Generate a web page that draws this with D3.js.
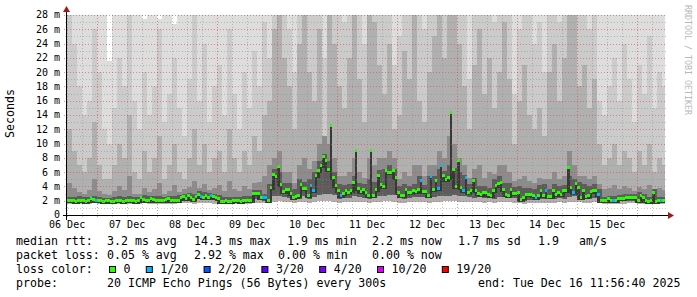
<!DOCTYPE html>
<html>
<head>
<meta charset="utf-8">
<script src="https://cdn.jsdelivr.net/npm/d3@7"></script>
<style>
  body { margin: 0; background: #fff; }
  text { font-family: "DejaVu Sans Mono", monospace; }
</style>
</head>
<body>
<svg id="chart" width="697" height="297"></svg>
<script>
// median rtt in ms, one value per hour starting 06 Dec 12:00
const medianRtt = [
  2.0,2.0,2.0,1.9,2.0,2.0,2.0,1.9,2.0,2.3,2.2,2.0,2.1,
  2.0,1.9,2.0,2.0,1.9,1.9,2.0,2.1,2.0,1.9,2.0,2.0,2.1,2.0,1.9,2.0,
  2.4,2.2,2.0,2.1,2.3,2.2,2.0,2.0,2.1,2.0,2.2,2.3,2.0,2.0,2.0,2.1,2.4,
  2.6,2.3,2.7,2.5,2.2,2.6,2.9,2.6,2.4,2.8,2.5,2.7,2.6,2.4,2.3,
  1.9,1.9,2.0,1.9,1.9,2.0,2.0,2.0,1.9,2.0,2.0,2.0,2.1,
  3.0,3.0,3.0,2.5,2.5,2.5,2.1,
  3.9,5.7,5.4,6.8,4.3,3.3,3.6,3.6,3.0,2.5,2.6,2.8,4.3,3.7,3.7,2.8,4.1,3.5,5.6,6.2,
  7.0,8.2,7.6,6.4,12.6,5.2,4.1,3.4,2.7,3.0,3.4,3.1,3.5,4.5,9.0,3.7,3.3,3.6,3.1,2.8,
  9.0,2.8,3.6,5.5,4.3,4.0,6.2,6.0,6.0,6.2,5.2,3.2,2.7,2.7,3.6,3.2,3.2,3.5,3.3,3.6,
  4.8,3.3,3.3,2.8,5.4,3.6,4.8,3.7,7.0,5.5,5.0,5.2,14.3,6.4,4.0,7.6,3.9,3.5,5.2,3.1,
  3.4,4.8,3.4,3.0,2.9,3.2,3.2,2.9,2.8,3.5,4.1,4.4,4.6,3.6,2.9,2.8,3.6,3.0,3.0,3.2,
  2.2,2.4,2.9,2.9,2.9,2.7,2.5,2.7,3.4,2.7,3.5,2.6,2.6,3.5,2.9,3.1,2.9,3.4,3.4,6.6,
  3.9,3.1,4.4,3.9,2.5,3.5,2.6,2.7,3.3,3.5,3.4,2.9,2.0,2.0,2.0,2.3,2.0,2.1,2.1,2.3,
  2.3,2.3,2.4,2.5,2.5,2.5,2.4,2.1,2.8,2.5,2.0,1.9,2.1,3.2,1.9,2.0,2.0,2.0
];

// hours (index into medianRtt) where 1 of 20 pings was lost
const lossOneHours = [11,53,57,78,79,97,98,109,141,145,148,149,158,159,187,191,202,212,218,237];

// smoke, one value per 2-hour column starting 06 Dec 12:00 (ms)
const smokeTop = [
  30,30,30,30,30,30,30,30,21.5,30,30,30,30,30,30,27.4,30,30,27.5,30,
  30,26.8,30,30,30,30,30,30,30,30,30,30,30,30,30,30,30,30,30,30,
  30,30,30,30,30,30,30,30,30,30,30,30,30,30,30,30,30,30,30,30,
  30,30,30,30,30,30,30,30,30,30,30,30,30,30,30,30,30,30,30,30,
  30,30,30,30,30,30,30,30,30,30,30,30,30,30,30,30,30,30,30,30,
  30,30,30,30,30,30,30,30,30,30,30,30,30,30,30,30,30,30,30,30
];
const smokeP18 = [
  28,24,18,14,16,26,20,12,10,15,22,18,28,16,12,20,14,18,26,13,
  17,22,15,11,19,28,16,24,13,18,21,14,26,17,12,20,15,23,18,27,22,
  30,30,30,26,20,30,30,30,28,30,22,30,30,30,27,30,30,30,24,30,
  30,30,29,30,21,25,30,30,30,28,26,30,30,30,30,30,30,30,30,19,
  30,30,28,30,27,30,30,29,17,26,30,28,24,27,20,30,30,27,30,30,
  30,29,30,26,28,16,
  14,18,22,16,24,19,13,21,17,25,15,20,18
];
const smokeP16 = [
  12,9,7,6,8,13,7,5,5,7,10,8,14,6,5,9,6,8,11,5,
  7,10,6,5,8,12,7,10,6,8,9,6,12,8,6,9,7,11,9,14,16,
  26,30,22,18,12,24,30,20,16,26,11,30,24,18,15,22,30,19,13,30,
  27,21,17,24,12,14,23,19,28,16,13,20,25,30,22,30,30,24,18,12,
  21,26,17,22,15,20,27,19,10,16,21,14,12,15,11,20,24,16,22,30,
  28,18,21,15,19,10,
  7,8,10,7,9,8,6,9,7,10,6,8,7
];
const smokeP14 = [
  4.5,3.8,3.2,3.0,3.5,5.0,3.4,3.0,2.8,3.3,4.0,3.5,5.5,3.0,2.9,3.8,3.2,3.6,4.5,3.0,
  3.4,4.2,3.2,3.6,3.9,4.8,3.8,4.4,3.5,3.8,4.2,3.4,4.8,3.6,3.4,4.0,3.6,4.5,4.6,5.5,7.0,
  8,9,6,6,4.5,7,8,6.5,7.5,10,11,10,8,5.5,5.5,6,8,6,5.2,8,
  7,8,8,9,8,5,6,5.5,7,7,5.5,7,7,9,8,11,10,8,7,5.2,
  6.5,7,5.2,6,5.8,7,7,6,4.8,5,5.5,4.8,4.5,5.2,5.0,5,6,5,5.5,9,
  7,5.5,5.5,5,5.5,4.4,
  3.6,3.8,4.2,3.6,4.0,3.8,3.4,3.9,3.6,4.2,3.4,3.8,3.5
];
const smokeP12 = [
  2.5,2.5,2.6,2.5,2.5,2.7,2.5,2.4,2.4,2.5,2.6,2.5,2.7,2.5,2.5,2.8,2.6,2.6,2.7,2.5,
  2.6,2.7,2.8,3.0,3.1,3.0,3.3,3.2,3.1,3.0,2.8,2.5,2.5,2.5,2.5,2.6,2.6,3.5,3.5,3.0,4.3,
  6.5,6.0,4.5,4.5,3.6,5.0,4.6,5.0,6.0,7.5,8.5,7.5,6.0,4.3,4.2,4.4,5.5,4.5,4.4,5.0,
  4.6,6.3,6.5,7.0,6.5,4.0,4.4,4.1,4.4,5.4,4.2,5.5,5.4,6.5,6.2,7.0,6.6,6.0,5.6,4.3,
  5.2,4.0,4.1,3.8,5.0,5.4,4.5,4.5,3.9,4.0,3.8,3.8,3.6,4.2,4.3,3.6,4.3,4.0,4.2,5.5,
  5.0,4.6,4.3,4.1,4.3,3.7,
  2.5,2.7,2.6,2.8,2.9,3.0,2.9,3.2,2.9,2.5,3.6,2.5,2.5
];
const smokeLow = [
  1.85,1.85,1.8,1.8,1.85,1.9,1.85,1.8,1.85,1.85,1.85,1.8,1.85,1.85,1.8,1.95,1.85,1.85,1.8,1.85,
  1.85,1.9,2.0,2.1,2.1,2.0,2.2,2.1,2.1,2.1,1.9,1.8,1.85,1.85,1.85,1.8,1.85,2.2,2.1,2.0,2.0,
  2.6,2.7,2.5,2.4,2.1,2.3,2.6,2.3,2.5,2.8,2.9,2.9,2.8,2.3,2.4,2.4,2.6,2.5,2.4,2.3,
  2.5,2.7,2.7,2.8,2.8,2.4,2.3,2.4,2.5,2.5,2.5,2.4,2.5,2.6,2.7,2.7,2.8,2.7,2.6,2.5,
  2.4,2.5,2.4,2.4,2.3,2.5,2.7,2.4,2.4,2.0,2.0,2.1,2.3,2.2,2.2,2.2,2.2,2.4,2.3,2.5,
  2.6,2.5,2.2,2.2,2.4,2.0,
  1.85,1.85,1.85,1.9,1.9,2.0,2.0,1.85,1.85,1.8,1.85,1.85,1.85
];
const smokeMin = [
  1.6,1.6,1.5,1.6,1.6,1.7,1.6,1.5,1.6,1.6,1.6,1.5,1.6,1.6,1.6,1.7,1.6,1.6,1.5,1.6,
  1.6,1.6,1.7,1.7,1.7,1.6,1.7,1.7,1.7,1.6,1.6,1.5,1.6,1.6,1.6,1.5,1.6,1.7,1.7,1.7,1.7,
  1.8,1.9,1.8,1.8,1.7,1.8,1.8,1.7,1.8,1.9,1.9,1.9,1.8,1.7,1.8,1.8,1.8,1.8,1.8,1.7,
  1.8,1.8,1.9,1.9,1.8,1.7,1.7,1.8,1.8,1.8,1.8,1.7,1.8,1.8,1.9,1.9,1.9,1.8,1.8,1.8,
  1.8,1.8,1.7,1.8,1.7,1.8,1.8,1.8,1.7,1.7,1.6,1.7,1.7,1.7,1.7,1.7,1.7,1.8,1.7,1.8,
  1.8,1.8,1.7,1.7,1.8,1.7,
  1.6,1.6,1.6,1.6,1.6,1.7,1.7,1.6,1.6,1.5,1.6,1.6,1.6
];

// axis labels
const yTicks = [0, 2, 4, 6, 8, 10, 12, 14, 16, 18, 20, 22, 24, 26, 28];
const yTickLabels = ["0", "2 m", "4 m", "6 m", "8 m", "10 m", "12 m", "14 m",
  "16 m", "18 m", "20 m", "22 m", "24 m", "26 m", "28 m"];
const dayLabels = ["06 Dec", "07 Dec", "08 Dec", "09 Dec", "10 Dec",
  "11 Dec", "12 Dec", "13 Dec", "14 Dec", "15 Dec"];

// legend
const lossLabels = ["0", "1/20", "2/20", "3/20", "4/20", "10/20", "19/20"];
const lossColors = ["#26ff00", "#00b8ff", "#0059ff", "#5e00ff", "#7e00ff", "#dd00ff", "#ff0000"];
const rttLine = [["median rtt:", 16], ["3.2 ms avg", 107], ["14.3 ms max", 194], ["1.9 ms min", 287],
  ["2.2 ms now", 372], ["1.7 ms sd", 458], ["1.9", 538], ["am/s", 579]];
const lossLine = [["packet loss:", 16], ["0.05 % avg", 107], ["2.92 % max", 194],
  ["0.00 % min", 278], ["0.00 % now", 372]];
const probeLine = [["probe:", 16], ["20 ICMP Echo Pings (56 Bytes) every 300s", 107],
  ["end: Tue Dec 16 11:56:40 2025", 478]];

const svg = d3.select("#chart");
const plot = { left: 67, top: 15, width: 600, height: 200 };

const viewStart = new Date(Date.UTC(2025, 11, 6, 11, 56, 40));
const viewEnd = new Date(Date.UTC(2025, 11, 16, 11, 56, 40));
const dataStart = new Date(Date.UTC(2025, 11, 6, 12, 0, 0));
const dataEnd = d3.utcHour.offset(dataStart, medianRtt.length);

const x = d3.scaleUtc().domain([viewStart, viewEnd]).range([plot.left, plot.left + plot.width]);
const y = d3.scaleLinear().domain([0, 28]).range([plot.top + plot.height, plot.top]);

svg.append("rect").attr("width", 697).attr("height", 297).attr("fill", "#fff");

svg.append("clipPath").attr("id", "clip")
  .append("rect")
    .attr("x", plot.left).attr("y", plot.top)
    .attr("width", plot.width).attr("height", plot.height);

const area = svg.append("g").attr("clip-path", "url(#clip)");

// smoke: outer bands first, darker inner bands on top
const cols = smokeTop.map((_, j) => {
  const t0 = d3.utcHour.offset(dataStart, 2 * j);
  const t1 = new Date(Math.min(+d3.utcHour.offset(dataStart, 2 * j + 2), +dataEnd));
  return { j, x0: x(t0), x1: x(t1) };
});

const bands = [
  { top: smokeTop, bottom: smokeMin, color: "#dddddd" },
  { top: smokeP18, bottom: smokeMin, color: "#cbcbcb" },
  { top: smokeP16, bottom: smokeMin, color: "#b0b0b0" },
  { top: smokeP14, bottom: smokeLow, color: "#8c8c8c" },
  { top: smokeP12, bottom: smokeLow, color: "#5c5c5c" }
];

bands.forEach(b => {
  area.append("g")
    .attr("fill", b.color)
    .attr("shape-rendering", "crispEdges")
    .selectAll("rect")
    .data(cols)
    .join("rect")
      .attr("x", d => d.x0)
      .attr("width", d => d.x1 - d.x0)
      .attr("y", d => y(b.top[d.j]))
      .attr("height", d => y(b.bottom[d.j]) - y(b.top[d.j]));
});

// median steps
const steps = medianRtt.map((v, i) => ({
  i, v,
  x0: x(d3.utcHour.offset(dataStart, i)),
  x1: x(d3.utcHour.offset(dataStart, i + 1)),
  lo: Math.min(medianRtt[i - 1] ?? v, v, medianRtt[i + 1] ?? v) - 0.35,
  color: lossOneHours.includes(i) ? lossColors[1] : lossColors[0]
}));

// dark core under each median step
area.append("g")
  .attr("fill", "#383838")
  .attr("shape-rendering", "crispEdges")
  .selectAll("rect")
  .data(steps)
  .join("rect")
    .attr("x", d => d.x0)
    .attr("width", d => d.x1 - d.x0)
    .attr("y", d => y(d.v))
    .attr("height", d => y(d.lo) - y(d.v));

area.append("g")
  .attr("shape-rendering", "crispEdges")
  .selectAll("rect")
  .data(steps)
  .join("rect")
    .attr("x", d => d.x0)
    .attr("width", d => d.x1 - d.x0)
    .attr("y", d => y(d.v) - 1.5)
    .attr("height", 3)
    .attr("fill", d => d.color);

// grid on top of the graph
const grid = svg.append("g").attr("fill", "none").attr("stroke-dasharray", "1,2");
const yMinor = y.ticks(28).filter(v => !yTicks.includes(v));
const xMajor = d3.utcDay.range(viewStart, viewEnd);
const xMinor = d3.utcHour.every(6).range(viewStart, viewEnd).filter(t => t.getUTCHours() !== 0);

grid.selectAll(".hmin").data(yMinor).join("line")
  .attr("class", "hmin")
  .attr("x1", plot.left - 2).attr("x2", plot.left + plot.width)
  .attr("y1", d => Math.round(y(d)) + 0.5).attr("y2", d => Math.round(y(d)) + 0.5)
  .attr("stroke", "rgba(140,140,140,0.5)");

grid.selectAll(".vmin").data(xMinor).join("line")
  .attr("class", "vmin")
  .attr("x1", d => Math.round(x(d)) + 0.5).attr("x2", d => Math.round(x(d)) + 0.5)
  .attr("y1", plot.top).attr("y2", plot.top + plot.height + 2)
  .attr("stroke", "rgba(140,140,140,0.5)");

grid.selectAll(".hmaj").data(yTicks.filter(v => v > 0)).join("line")
  .attr("class", "hmaj")
  .attr("x1", plot.left - 3).attr("x2", plot.left + plot.width)
  .attr("y1", d => Math.round(y(d)) + 0.5).attr("y2", d => Math.round(y(d)) + 0.5)
  .attr("stroke", "rgba(225,70,70,0.6)");

grid.selectAll(".vmaj").data(xMajor).join("line")
  .attr("class", "vmaj")
  .attr("x1", d => Math.round(x(d)) + 0.5).attr("x2", d => Math.round(x(d)) + 0.5)
  .attr("y1", plot.top).attr("y2", plot.top + plot.height + 3)
  .attr("stroke", "rgba(225,70,70,0.6)");

// axes with arrows
svg.append("line")
  .attr("x1", plot.left - 4).attr("x2", plot.left + plot.width + 3)
  .attr("y1", plot.top + plot.height + 0.5).attr("y2", plot.top + plot.height + 0.5)
  .attr("stroke", "#000");
svg.append("line")
  .attr("x1", plot.left - 0.5).attr("x2", plot.left - 0.5)
  .attr("y1", plot.top + plot.height + 5).attr("y2", plot.top - 4)
  .attr("stroke", "#000");
svg.append("path")
  .attr("d", `M${plot.left + plot.width + 1},${plot.top + plot.height - 3}l6,3.5l-6,3.5z`)
  .attr("fill", "#a01818");
svg.append("path")
  .attr("d", `M${plot.left - 4},${plot.top - 3}l3.5,-6l3.5,6z`)
  .attr("fill", "#a01818");

// tick labels
svg.append("g")
  .attr("font-size", "10px")
  .attr("text-anchor", "end")
  .selectAll("text")
  .data(yTicks)
  .join("text")
    .attr("x", 60)
    .attr("y", d => y(d) + 3.4)
    .text((d, i) => yTickLabels[i]);

svg.append("g")
  .attr("font-size", "10px")
  .attr("text-anchor", "middle")
  .selectAll("text")
  .data(dayLabels)
  .join("text")
    .attr("x", (d, i) => x(d3.utcHour.offset(d3.utcDay.offset(d3.utcDay.floor(viewStart), i), 12)))
    .attr("y", 227.5)
    .text(d => d);

svg.append("text")
  .attr("transform", "translate(14,113.5) rotate(-90)")
  .attr("text-anchor", "middle")
  .attr("font-size", "11.6px")
  .text("Seconds");

svg.append("text")
  .attr("transform", "translate(685,5) rotate(90)")
  .attr("font-size", "8.3px")
  .attr("fill", "#b8b8b8")
  .text("RRDTOOL / TOBI OETIKER");

// legend lines
const legend = svg.append("g").attr("font-size", "11.6px").attr("fill", "#000");
[[rttLine, 244.5], [lossLine, 258.5], [probeLine, 286.5]].forEach(([line, by]) => {
  legend.selectAll(null)
    .data(line)
    .join("text")
      .attr("x", d => d[1])
      .attr("y", by)
      .text(d => d[0]);
});

legend.append("text").attr("x", 16).attr("y", 272.5).text("loss color:");
let lx = 109;
lossLabels.forEach((lab, k) => {
  legend.append("rect")
    .attr("x", lx + 0.5).attr("y", 266.5)
    .attr("width", 6).attr("height", 6)
    .attr("fill", lossColors[k])
    .attr("stroke", "#000");
  legend.append("text").attr("x", lx + 14.5).attr("y", 272.5).text(lab);
  lx += 14.5 + lab.length * 7 + 15.3;
});
</script>
</body>
</html>
